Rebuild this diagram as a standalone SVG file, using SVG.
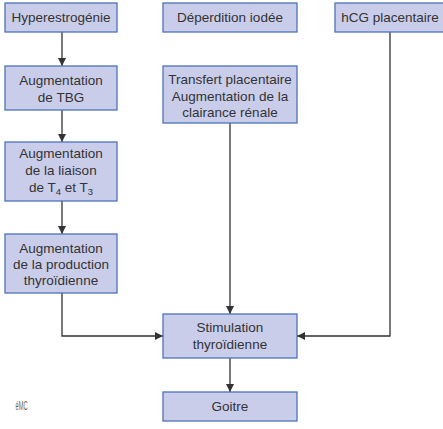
<svg xmlns="http://www.w3.org/2000/svg" width="443" height="429" viewBox="0 0 443 429">
<style>
.box{fill:#c9cdea;stroke:#4d72b8;stroke-width:1.3}
.t{font-family:"Liberation Sans",Arial,sans-serif;font-size:13.5px;fill:#333;text-anchor:middle}
.c{fill:none;stroke:#333;stroke-width:1.3}
.sub{font-size:9.5px}
</style>
<defs>
<marker id="ah" markerUnits="userSpaceOnUse" markerWidth="9" markerHeight="8" refX="8" refY="4" orient="auto">
<path d="M0,0 L8,4 L0,8 z" fill="#333"/>
</marker>
</defs>
<rect width="443" height="429" fill="#fff"/>
<g id="connectors">
<line class="c" x1="62" y1="32" x2="62" y2="66" marker-end="url(#ah)"/>
<line class="c" x1="62" y1="110" x2="62" y2="142" marker-end="url(#ah)"/>
<line class="c" x1="62" y1="201" x2="62" y2="234" marker-end="url(#ah)"/>
<path class="c" d="M62,293 V336 H163" marker-end="url(#ah)"/>
<path class="c" d="M390,32 V336 H297" marker-end="url(#ah)"/>
<line class="c" x1="230" y1="123" x2="230" y2="314" marker-end="url(#ah)"/>
<line class="c" x1="230" y1="358" x2="230" y2="392" marker-end="url(#ah)"/>
</g>
<g id="hyperestrogenie">
<rect class="box" x="5" y="3" width="112" height="29"/>
<text class="t" x="61" y="22">Hyperestrogénie</text>
</g>
<g id="deperdition">
<rect class="box" x="163" y="3" width="134" height="29"/>
<text class="t" x="230" y="22">Déperdition iodée</text>
</g>
<g id="hcg">
<rect class="box" x="335" y="3" width="112" height="29"/>
<text class="t" x="390" y="22">hCG placentaire</text>
</g>
<g id="tbg">
<rect class="box" x="5" y="66" width="112" height="44"/>
<text class="t" x="61" y="85">Augmentation</text>
<text class="t" x="61" y="101.5">de TBG</text>
</g>
<g id="transfert">
<rect class="box" x="163" y="66" width="134" height="57"/>
<text class="t" x="230" y="84">Transfert placentaire</text>
<text class="t" x="230" y="100.5">Augmentation de la</text>
<text class="t" x="230" y="117">clairance rénale</text>
</g>
<g id="liaison">
<rect class="box" x="5" y="142" width="112" height="59"/>
<text class="t" x="61" y="158">Augmentation</text>
<text class="t" x="61" y="175">de la liaison</text>
<text class="t" x="61" y="192">de T<tspan class="sub" dy="3">4</tspan><tspan dy="-3"> et T</tspan><tspan class="sub" dy="3">3</tspan></text>
</g>
<g id="production">
<rect class="box" x="5" y="234" width="112" height="59"/>
<text class="t" x="61" y="253">Augmentation</text>
<text class="t" x="61" y="269">de la production</text>
<text class="t" x="61" y="285">thyroïdienne</text>
</g>
<g id="stimulation">
<rect class="box" x="163" y="314" width="134" height="44"/>
<text class="t" x="230" y="332">Stimulation</text>
<text class="t" x="230" y="349">thyroïdienne</text>
</g>
<g id="goitre">
<rect class="box" x="163" y="392" width="134" height="29"/>
<text class="t" x="230" y="411">Goitre</text>
</g>
<text x="21.5" y="410" font-family="Liberation Sans,sans-serif" font-size="12" fill="#666" text-anchor="middle" textLength="12" lengthAdjust="spacingAndGlyphs">éMC</text>
</svg>
